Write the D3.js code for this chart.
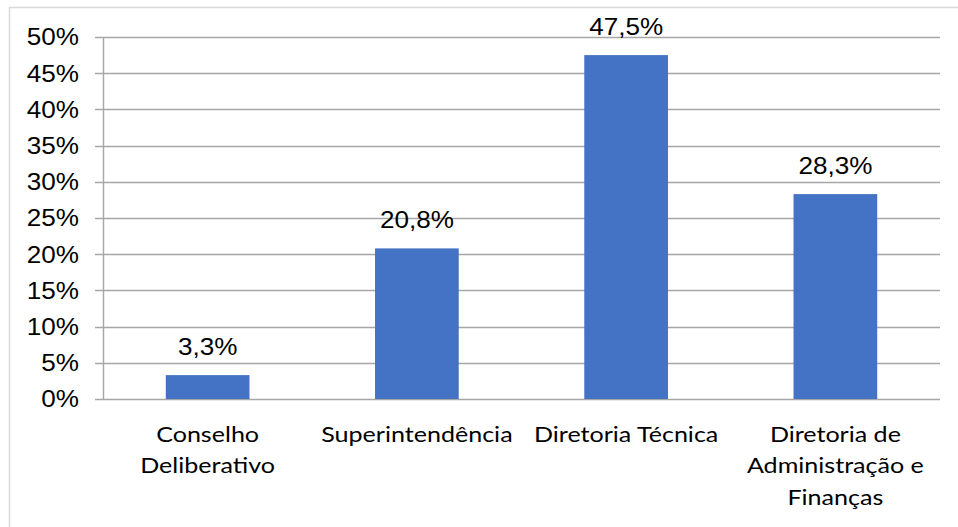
<!DOCTYPE html>
<html>
<head>
<meta charset="utf-8">
<script src="https://cdnjs.cloudflare.com/ajax/libs/d3/7.8.5/d3.min.js"></script>
<style>
  body { margin: 0; background: #fff; }
  svg { display: block; }
</style>
</head>
<body>
<div id="chart"></div>
<script>
// chart data
var categories = [
    ["Conselho", "Deliberativo"],
    ["Superintendência"],
    ["Diretoria Técnica"],
    ["Diretoria de", "Administração e", "Finanças"]
];
var shares = [0.033, 0.208, 0.475, 0.283];
var yTicks = [0, 0.05, 0.10, 0.15, 0.20, 0.25, 0.30, 0.35, 0.40, 0.45, 0.50];

var width = 958, height = 527;
var margin = { top: 37, right: 18, bottom: 128, left: 103 };
var stretch = 1.11; // picture is a bit wider than tall

var svg = d3.select("#chart").append("svg")
    .attr("width", width)
    .attr("height", height);

// outer frame of the chart area
svg.append("rect")
    .attr("x", 9.5)
    .attr("y", 7.5)
    .attr("width", 980)
    .attr("height", 560)
    .attr("fill", "none")
    .attr("stroke", "#d9d9d9")
    .attr("stroke-width", 1.5);

var x = d3.scaleBand()
    .domain(d3.range(categories.length))
    .range([margin.left, width - margin.right])
    .paddingInner(0.6)
    .paddingOuter(0.3);

var y = d3.scaleLinear()
    .domain([0, 0.5])
    .range([height - margin.bottom, margin.top]);

var fmtAxis = function(d) { return Math.round(d * 100) + "%"; };
var fmtLabel = function(d) { return (d * 100).toFixed(1).replace(".", ",") + "%"; };

// gridlines with little ticks on the left
svg.append("g")
    .attr("class", "grid")
    .selectAll("line")
    .data(yTicks)
    .join("line")
    .attr("x1", margin.left - 8)
    .attr("x2", width - margin.right)
    .attr("y1", function(d) { return Math.round(y(d)) + 0.5; })
    .attr("y2", function(d) { return Math.round(y(d)) + 0.5; })
    .attr("stroke", "#a6a6a6")
    .attr("stroke-width", 1.4);

// vertical axis line
svg.append("line")
    .attr("x1", margin.left + 0.5)
    .attr("x2", margin.left + 0.5)
    .attr("y1", y(0.5))
    .attr("y2", y(0))
    .attr("stroke", "#a6a6a6")
    .attr("stroke-width", 1.4);

// y tick labels
svg.append("g")
    .selectAll("text")
    .data(yTicks)
    .join("text")
    .attr("transform", function(d) {
        return "translate(" + 79 + "," + (y(d) + 8.4) + ") scale(" + stretch + ",1)";
    })
    .attr("text-anchor", "end")
    .style("font-family", "'Liberation Sans', Arial, sans-serif")
    .style("font-size", "23.5px")
    .attr("fill", "#000")
    .text(fmtAxis);

// bars
svg.append("g")
    .selectAll("rect")
    .data(shares)
    .join("rect")
    .attr("x", function(d, i) { return x(i); })
    .attr("width", x.bandwidth())
    .attr("y", function(d) { return y(d); })
    .attr("height", function(d) { return y(0) - y(d); })
    .attr("fill", "#4472c4");

// value labels
svg.append("g")
    .selectAll("text")
    .data(shares)
    .join("text")
    .attr("transform", function(d, i) {
        return "translate(" + (x(i) + x.bandwidth() / 2) + "," + (y(d) - 20) + ") scale(" + stretch + ",1)";
    })
    .attr("text-anchor", "middle")
    .style("font-family", "'Liberation Sans', Arial, sans-serif")
    .style("font-size", "23.5px")
    .attr("fill", "#000")
    .text(fmtLabel);

// category labels (wrapped)
var catGroups = svg.append("g")
    .selectAll("text")
    .data(categories)
    .join("text")
    .attr("transform", function(d, i) {
        return "translate(" + (x(i) + x.bandwidth() / 2) + "," + (y(0) + 43) + ") scale(1.14,1)";
    })
    .attr("text-anchor", "middle")
    .style("font-family", "Lato, 'Open Sans', sans-serif")
    .style("font-size", "22px")
    .attr("fill", "#000");

catGroups.selectAll("tspan")
    .data(function(d) { return d; })
    .join("tspan")
    .attr("x", 0)
    .attr("y", function(d, j) { return j * 31.5; })
    .text(function(d) { return d; });
</script>
</body>
</html>
